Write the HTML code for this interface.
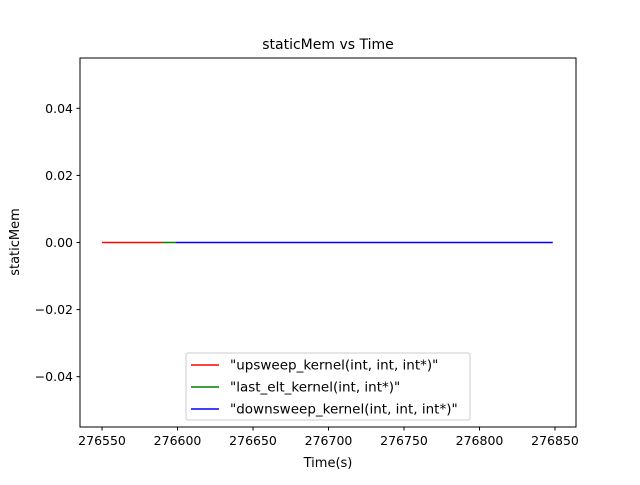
<!DOCTYPE html>
<html><head><meta charset="utf-8"><style>body{margin:0;background:#fff}svg{font-family:"DejaVu Sans","Liberation Sans",sans-serif}</style></head>
<body>
<svg id="chart" width="640" height="480" xmlns="http://www.w3.org/2000/svg">
<rect width="640" height="480" fill="#fff"/>
<text x="328" y="49" font-size="14" text-anchor="middle">staticMem vs Time</text>
<g id="plot"></g>
<rect x="80" y="58" width="496" height="369" fill="none" stroke="#000" stroke-width="1"/>
<text x="328" y="467" font-size="13" text-anchor="middle">Time(s)</text>
<text x="19" y="242" font-size="13" text-anchor="middle" transform="rotate(-90 19 242)">staticMem</text>
<g>
<rect x="186" y="353" width="284" height="67" rx="2" fill="#fff" fill-opacity="0.8" stroke="#ccc"/>
</g>
</svg>
<script>
const seriesNames=['"upsweep_kernel(int, int, int*)"','"last_elt_kernel(int, int*)"','"downsweep_kernel(int, int, int*)"'];
const seriesColors=['#ff0000','#008000','#0000ff'];
const seriesStart=[276550,276589.7,276599];
const seriesEnd=[276589.7,276599,276848.5];
const seriesValue=[0,0,0];
const xTicks=[276550,276600,276650,276700,276750,276800,276850];
const yTicks=[-0.04,-0.02,0.00,0.02,0.04];
const yTickLabels=['−0.04','−0.02','0.00','0.02','0.04'];
const NS='http://www.w3.org/2000/svg';
const X=v=>80+(v-276535.4)*(496/(276863.9-276535.4));
const Y=v=>58+(0.055-v)*(369/0.11);
const svg=document.getElementById('chart');
const plot=document.getElementById('plot');
function mk(t,a,p){const e=document.createElementNS(NS,t);for(const k in a)e.setAttribute(k,a[k]);(p||svg).appendChild(e);return e;}
xTicks.forEach(v=>{
 const l=mk('line',{x1:X(v),x2:X(v),y1:427,y2:430.5,stroke:'#000'});
 
 
 const t=mk('text',{x:X(v),y:445,'font-size':'12.5','text-anchor':'middle'});t.textContent=v;
 
 
});
yTicks.forEach((v,i)=>{
 const l=mk('line',{x1:76.5,x2:80,y1:Y(v),y2:Y(v),stroke:'#000'});
 
 
 const t=mk('text',{x:73,y:Y(v)+4.5,'font-size':'12.5','text-anchor':'end'});t.textContent=yTickLabels[i];
 
 
});
seriesNames.forEach((n,i)=>{
 const l=mk('line',{x1:X(seriesStart[i]),x2:X(seriesEnd[i]),y1:Y(seriesValue[i]),y2:Y(seriesValue[i]),stroke:seriesColors[i],'stroke-width':1.5},plot);
 
 
 const yy=365+i*22;
 const ll=mk('line',{x1:191,x2:219,y1:yy,y2:yy,stroke:seriesColors[i],'stroke-width':1.5});
 
 
 const t=mk('text',{x:230,y:yy+4.5,'font-size':'13.5'});t.textContent=n;
 
 
});
</script>
</body></html>
